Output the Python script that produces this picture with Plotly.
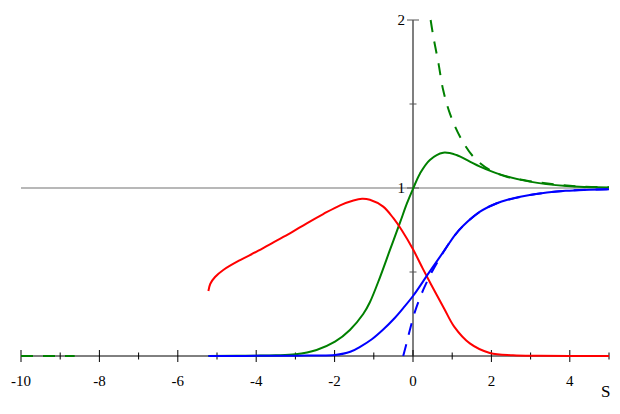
import plotly.graph_objects as go

# values
s_red = [-5.22, -5.17, -5.05, -4.84, -4.41, -3.99, -3.56, -3.14, -2.71, -2.29, -1.86, -1.52,
         -1.30, -1.10, -0.76, -0.50, -0.29, 0.0, 0.25, 0.52, 0.80, 1.05, 1.45, 1.96, 2.55,
         3.2, 4.0, 5.0]
red = [0.387, 0.43, 0.47, 0.512, 0.571, 0.621, 0.677, 0.730, 0.79, 0.845, 0.897, 0.926,
       0.936, 0.930, 0.889, 0.82, 0.75, 0.635, 0.52, 0.40, 0.28, 0.175, 0.075, 0.018, 0.004,
       0.001, 0.0, 0.0]

s_green = [-5.22, -4.5, -4.0, -3.5, -3.0, -2.46, -1.99, -1.61, -1.27, -1.10, -0.84, -0.59,
           -0.33, -0.16, 0.0, 0.18, 0.43, 0.77, 1.11, 1.45, 1.71, 2.14, 2.98, 3.92, 5.0]
green = [0.0, 0.001, 0.002, 0.004, 0.01, 0.036, 0.085, 0.155, 0.25, 0.32, 0.47, 0.63,
         0.795, 0.905, 0.995, 1.087, 1.167, 1.21, 1.196, 1.157, 1.127, 1.087, 1.038, 1.012, 1.003]

s_green_dash = [0.45, 0.52, 0.65, 0.77, 0.94, 1.2, 1.54, 1.96, 2.39, 3.0, 4.0, 5.0]
green_dash = [2.0, 1.90, 1.742, 1.583, 1.444, 1.305, 1.186, 1.107, 1.067, 1.04, 1.013, 1.004]

s_green_left = [-10.0, -8.63]
green_left = [0.0, 0.0]

s_blue = [-5.22, -4.5, -4.0, -3.0, -2.5, -1.99, -1.6, -1.35, -1.05, -0.76, -0.46, -0.25,
          0.0, 0.39, 0.82, 1.07, 1.28, 1.71, 2.14, 2.39, 2.98, 3.9, 5.0]
blue = [0.0, 0.0, 0.001, 0.002, 0.003, 0.006, 0.025, 0.055, 0.10, 0.158, 0.228, 0.285,
        0.357, 0.49, 0.635, 0.72, 0.775, 0.859, 0.909, 0.929, 0.958, 0.983, 0.993]

s_blue_dash = [-0.25, -0.16, -0.08, 0.05, 0.26, 0.48, 0.65, 0.82, 1.07, 1.28, 1.71, 2.14,
               2.98, 3.9, 5.0]
blue_dash = [0.0, 0.08, 0.155, 0.264, 0.393, 0.50, 0.57, 0.635, 0.72, 0.775, 0.859, 0.909,
             0.958, 0.983, 0.993]

x_major = [-10, -8, -6, -4, -2, 0, 2, 4]
x_labels = ["-10", "-8", "-6", "-4", "-2", "0", "2", "4"]
x_minor = [-9, -7, -5, -3, -1, 1, 3, 5]
y_major = [1, 2]
y_labels = ["1", "2"]
y_minor = [0.5, 1.5]

# the page body has an 8px margin, so the figure is 8px smaller than the window
W, H = 612, 406
X0PX, Y0PX = 405, 348      # pixel position of the origin inside the figure
PX_X, PX_Y = 39.2, 168.0   # pixels per unit
xr = [-X0PX / PX_X, (W - X0PX) / PX_X]
yr = [-(H - Y0PX) / PX_Y, Y0PX / PX_Y]

SERIF = "Liberation Serif"

fig = go.Figure()


def tick_path(vals, half_px, vertical):
    xs, ys = [], []
    for v in vals:
        if vertical:
            d = half_px / PX_Y
            xs += [v, v, None]
            ys += [-d, d, None]
        else:
            d = half_px / PX_X
            xs += [-d, d, None]
            ys += [v, v, None]
    return xs, ys


# tick marks crossing the axes
for vals, half, vert, col in [(x_major, 6, True, "black"), (x_minor, 3.5, True, "black"),
                              (y_major, 6, False, "#555555"), (y_minor, 3.5, False, "#555555")]:
    tx, ty = tick_path(vals, half, vert)
    fig.add_trace(go.Scatter(x=tx, y=ty, mode="lines", line=dict(color=col, width=1),
                             hoverinfo="skip", showlegend=False))

curves = [
    (s_green_left, green_left, "#008000", "12px,10px"),
    (s_green, green, "#008000", "solid"),
    (s_green_dash, green_dash, "#008000", "12px,10px"),
    (s_red, red, "#ff0000", "solid"),
    (s_blue, blue, "#0000ff", "solid"),
    (s_blue_dash, blue_dash, "#0000ff", "12px,10px"),
]
for xs, ys, col, dash in curves:
    fig.add_trace(go.Scatter(x=xs, y=ys, mode="lines",
                             line=dict(color=col, width=2, dash=dash, shape="spline", smoothing=1.0),
                             showlegend=False))

fig.add_shape(type="line", x0=-10, x1=5, y0=1, y1=1, line=dict(color="#a0a0a0", width=1.5), layer="below")
fig.add_shape(type="line", x0=-10, x1=5, y0=0, y1=0, line=dict(color="black", width=1), layer="below")
fig.add_shape(type="line", x0=0, x1=0, y0=0, y1=2, line=dict(color="#555555", width=1.5), layer="below")

fig.add_annotation(x=4.92, y=-0.214, text="S", showarrow=False,
                   font=dict(family=SERIF, size=17, color="black"))

fig.update_layout(
    width=W, height=H,
    margin=dict(l=0, r=0, t=0, b=0),
    plot_bgcolor="white", paper_bgcolor="white",
    showlegend=False,
    xaxis=dict(range=xr, domain=[0, 1], anchor="free", position=(H - Y0PX) / H, automargin=False,
               showgrid=False, zeroline=False, showline=False, ticks="",
               tickvals=x_major, ticktext=x_labels, ticklabelstandoff=14,
               tickfont=dict(family=SERIF, size=15, color="black")),
    yaxis=dict(range=yr, domain=[0, 1], anchor="free", position=X0PX / W, automargin=False,
               showgrid=False, zeroline=False, showline=False, ticks="",
               tickvals=y_major, ticktext=y_labels, ticklabelstandoff=8,
               tickfont=dict(family=SERIF, size=15, color="black")),
)

fig.write_html("out.html")
